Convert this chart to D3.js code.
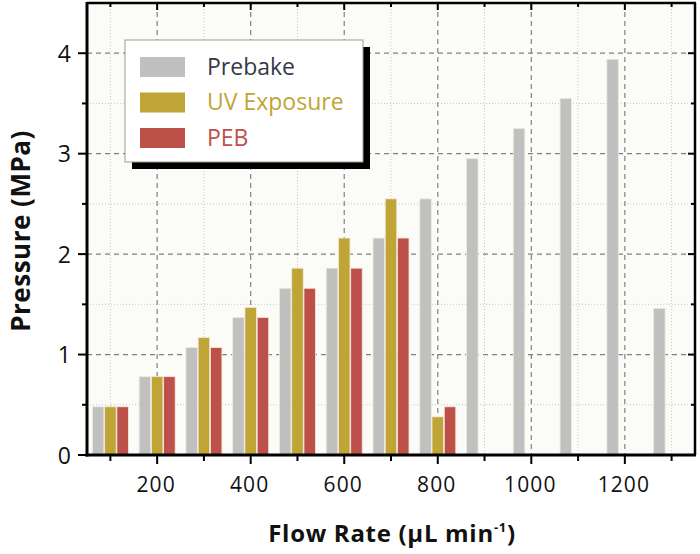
<!DOCTYPE html>
<html><head><meta charset="utf-8">
<script src="https://cdn.jsdelivr.net/npm/d3@7"></script>
<style>body{margin:0;background:#fff}svg{display:block}text{font-family:"Open Sans",sans-serif}</style>
</head><body><svg id="c" width="700" height="554"></svg>
<script>
const flowRates = [100,200,300,400,500,600,700,800,900,1000,1100,1200,1300];
const seriesNames = ["Prebake","UV Exposure","PEB"];
const prebake = [0.48,0.78,1.07,1.37,1.66,1.86,2.16,2.55,2.95,3.25,3.55,3.94,1.46];
const uvExposure = [0.48,0.78,1.17,1.47,1.86,2.16,2.55,0.38,null,null,null,null,null];
const peb = [0.48,0.78,1.07,1.37,1.66,1.86,2.16,0.48,null,null,null,null,null];
const xTicks = [200,400,600,800,1000,1200];
const xMinor = [100,300,500,700,900,1100,1300];
const yTicks = [0,1,2,3,4];
const yMinor = [0.5,1.5,2.5,3.5];
const colors = ["#c0c0c0","#bfa535","#bd5049"];
const textColors = ["#353a48","#bfa535","#c0504d"];

const svg = d3.select("#c");
const L=87,R=695,T=3,B=455;
const x = d3.scaleLinear().domain([50,1350]).range([L,R]);
const y = d3.scaleLinear().domain([0,4.5]).range([B,T]);
const sub = d3.scaleBand().domain(seriesNames).range([-18,18]).paddingInner(0.06);

svg.append("rect").attr("x",L).attr("y",T).attr("width",R-L).attr("height",B-T).attr("fill","#fbfbf7");

// minor grid
const g = svg.append("g");
g.selectAll(".mx").data(xMinor).join("line").attr("x1",d=>x(d)).attr("x2",d=>x(d)).attr("y1",T).attr("y2",B)
 .attr("stroke","#c8c8c8").attr("stroke-width",1).attr("stroke-dasharray","1,2");
g.selectAll(".my").data(yMinor).join("line").attr("y1",d=>y(d)).attr("y2",d=>y(d)).attr("x1",L).attr("x2",R)
 .attr("stroke","#c8c8c8").attr("stroke-width",1).attr("stroke-dasharray","1,2");
// major grid
g.selectAll(".Mx").data(xTicks).join("line").attr("x1",d=>x(d)).attr("x2",d=>x(d)).attr("y1",T).attr("y2",B)
 .attr("stroke","#808080").attr("stroke-width",1.2).attr("stroke-dasharray","5,4");
g.selectAll(".My").data(yTicks.filter(d=>d>0)).join("line").attr("y1",d=>y(d)).attr("y2",d=>y(d)).attr("x1",L).attr("x2",R)
 .attr("stroke","#808080").attr("stroke-width",1.2).attr("stroke-dasharray","5,4");

// bars
const allSeries = [prebake, uvExposure, peb];
allSeries.forEach((vals,si)=>{
  const data = flowRates.map((f,i)=>({f,v:vals[i]})).filter(d=>d.v!=null);
  svg.append("g").selectAll("rect").data(data).join("rect")
    .attr("x",d=>x(d.f)+sub(seriesNames[si]))
    .attr("width",sub.bandwidth())
    .attr("y",d=>y(d.v)).attr("height",d=>B-y(d.v))
    .attr("fill",colors[si]).attr("stroke","#f3e9df").attr("stroke-width",0.8);
});

// frame
const fr = svg.append("g").attr("stroke","#000");
fr.append("line").attr("x1",L).attr("x2",R+1).attr("y1",T).attr("y2",T).attr("stroke-width",2.5);
fr.append("line").attr("x1",R).attr("x2",R).attr("y1",T).attr("y2",B).attr("stroke-width",2.5);
fr.append("line").attr("x1",L).attr("x2",L).attr("y1",T-1).attr("y2",B+1.5).attr("stroke-width",3);
fr.append("line").attr("x1",L-1.5).attr("x2",R+1).attr("y1",B).attr("y2",B).attr("stroke-width",3);

// ticks
const tk = svg.append("g").attr("stroke","#000").attr("stroke-width",2);
xTicks.forEach(d=>{ tk.append("line").attr("x1",x(d)).attr("x2",x(d)).attr("y1",B).attr("y2",B+9);
  tk.append("line").attr("x1",x(d)).attr("x2",x(d)).attr("y1",T).attr("y2",T+7);});
xMinor.forEach(d=>{ tk.append("line").attr("x1",x(d)).attr("x2",x(d)).attr("y1",B).attr("y2",B+6);
  tk.append("line").attr("x1",x(d)).attr("x2",x(d)).attr("y1",T).attr("y2",T+4);});
yTicks.forEach(d=>{ tk.append("line").attr("x1",L).attr("x2",L-9).attr("y1",y(d)).attr("y2",y(d));
  tk.append("line").attr("x1",R).attr("x2",R-7).attr("y1",y(d)).attr("y2",y(d));});
yMinor.forEach(d=>{ tk.append("line").attr("x1",L).attr("x2",L-5).attr("y1",y(d)).attr("y2",y(d));
  tk.append("line").attr("x1",R).attr("x2",R-4).attr("y1",y(d)).attr("y2",y(d));});

// tick labels
svg.append("g").selectAll("text").data(xTicks).join("text")
  .attr("x",d=>x(d)-1).attr("y",491.5).attr("text-anchor","middle").attr("font-size",21).attr("letter-spacing",1.1)
  .attr("fill","#111").text(d=>d);
svg.append("g").selectAll("text").data(yTicks).join("text")
  .attr("x",71).attr("y",d=>y(d)+8.5).attr("text-anchor","end").attr("font-size",23).attr("fill","#111").text(d=>d);

// axis titles
const xt = svg.append("text").attr("x",392).attr("y",542).attr("text-anchor","middle")
  .attr("font-size",24).attr("font-weight","bold").attr("letter-spacing",0.7).attr("fill","#111");
xt.append("tspan").text("Flow Rate (μL min");
xt.append("tspan").attr("dy",-10).attr("font-size",13).text("-1");
xt.append("tspan").attr("dy",10).text(")");
svg.append("text").attr("transform","translate(30,231) rotate(-90)").attr("text-anchor","middle")
  .attr("font-size",26).attr("font-weight","bold").attr("letter-spacing",0.5).attr("fill","#111").text("Pressure (MPa)");

// legend
const lg = svg.append("g");
lg.append("rect").attr("x",132).attr("y",47).attr("width",238).attr("height",122).attr("fill","#000");
lg.append("rect").attr("x",125).attr("y",40).attr("width",238).attr("height",122).attr("fill","#fff").attr("stroke","#999").attr("stroke-width",1);
seriesNames.forEach((s,i)=>{
  const cy = 67+i*35.5;
  lg.append("rect").attr("x",140).attr("y",cy-10).attr("width",45).attr("height",20).attr("fill",colors[i]);
  lg.append("text").attr("x",207).attr("y",cy+7.5).attr("font-size",23).attr("fill",textColors[i]).text(s);
});
</script></body></html>
